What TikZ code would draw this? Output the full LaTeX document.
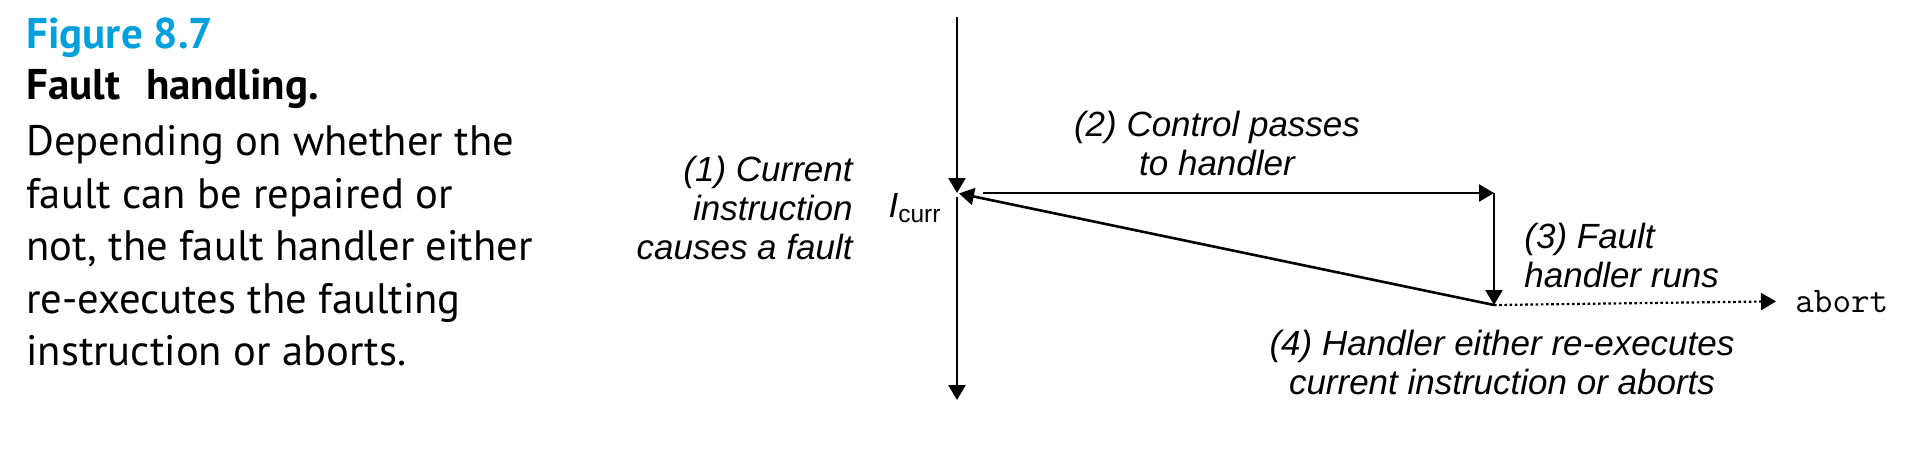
\documentclass[tikz,border=0pt]{standalone}
\usepackage{fontspec}
\usetikzlibrary{arrows.meta}
\setmainfont{Liberation Sans}
\newfontfamily\capfont{PT Sans}
\definecolor{figblue}{RGB}{0,160,221}
\tikzset{
  flow/.style={line width=1.3pt, -{Triangle[length=7.5pt,width=8.5pt]}},
  steplabel/.style={inner sep=0pt, font=\fontsize{17.5}{19.5}\selectfont\itshape},
  capline/.style={inner sep=0pt, anchor=base west},
}
\begin{document}
\begin{tikzpicture}[x=0.5pt,y=-0.5pt]
\useasboundingbox (0,0) rectangle (1930,456);
% caption
\node[capline, text=figblue, font=\capfont\fontsize{21.5}{25}\selectfont\bfseries] (figno) at (26,48) {Figure 8.7};
\node[capline, font=\capfont\fontsize{21.5}{25}\selectfont\bfseries] (figtitle) at (26,99) {Fault\hspace{0.6em}handling.};
\node[inner sep=0pt, anchor=north west, align=left, font=\capfont\fontsize{21.3}{26.25}\selectfont] (figtext) at (26,125)
  {Depending on whether the\\ fault can be repaired or\\ not, the fault handler either\\ re-executes the faulting\\ instruction or aborts.};

% time line and handler
\coordinate (top) at (957,17);
\coordinate (curr) at (957,193);
\coordinate (bottom) at (957,400);
\coordinate (pass) at (983,193);
\coordinate (handler) at (1494,193);
\coordinate (done) at (1494,305);
\node[inner sep=0pt, anchor=base west, font=\fontsize{18}{20}\selectfont\ttfamily] (abort) at (1795,312) {abort};

\draw[flow] (top) -- (curr);
\draw[flow, shorten <=2pt] (curr) -- (bottom);
\draw[flow] (pass) -- (handler);
\draw[flow] (handler) -- (done);
\draw[flow, shorten >=1pt] (done) -- (curr);
\draw[flow, line width=1.1pt, dash pattern=on 1.3pt off 1.3pt, shorten >=9.5pt] (done) -- (abort.west);

% labels
\node[steplabel, anchor=east, align=right] (cause) at (853,208) {(1) Current\\ instruction\\ causes a fault};
\node[inner sep=0pt, font=\fontsize{17.5}{19.5}\selectfont] (icurr) at (915,208) {\textit{I}\textsubscript{curr}};
\node[steplabel, align=center] (passes) at (1217,143) {(2) Control passes\\ to handler};
\node[steplabel, anchor=west, align=left] (runs) at (1524,255) {(3) Fault\\ handler runs};
\node[steplabel, align=center] (either) at (1502,362) {(4) Handler either re-executes\\ current instruction or aborts};
\end{tikzpicture}
\end{document}
